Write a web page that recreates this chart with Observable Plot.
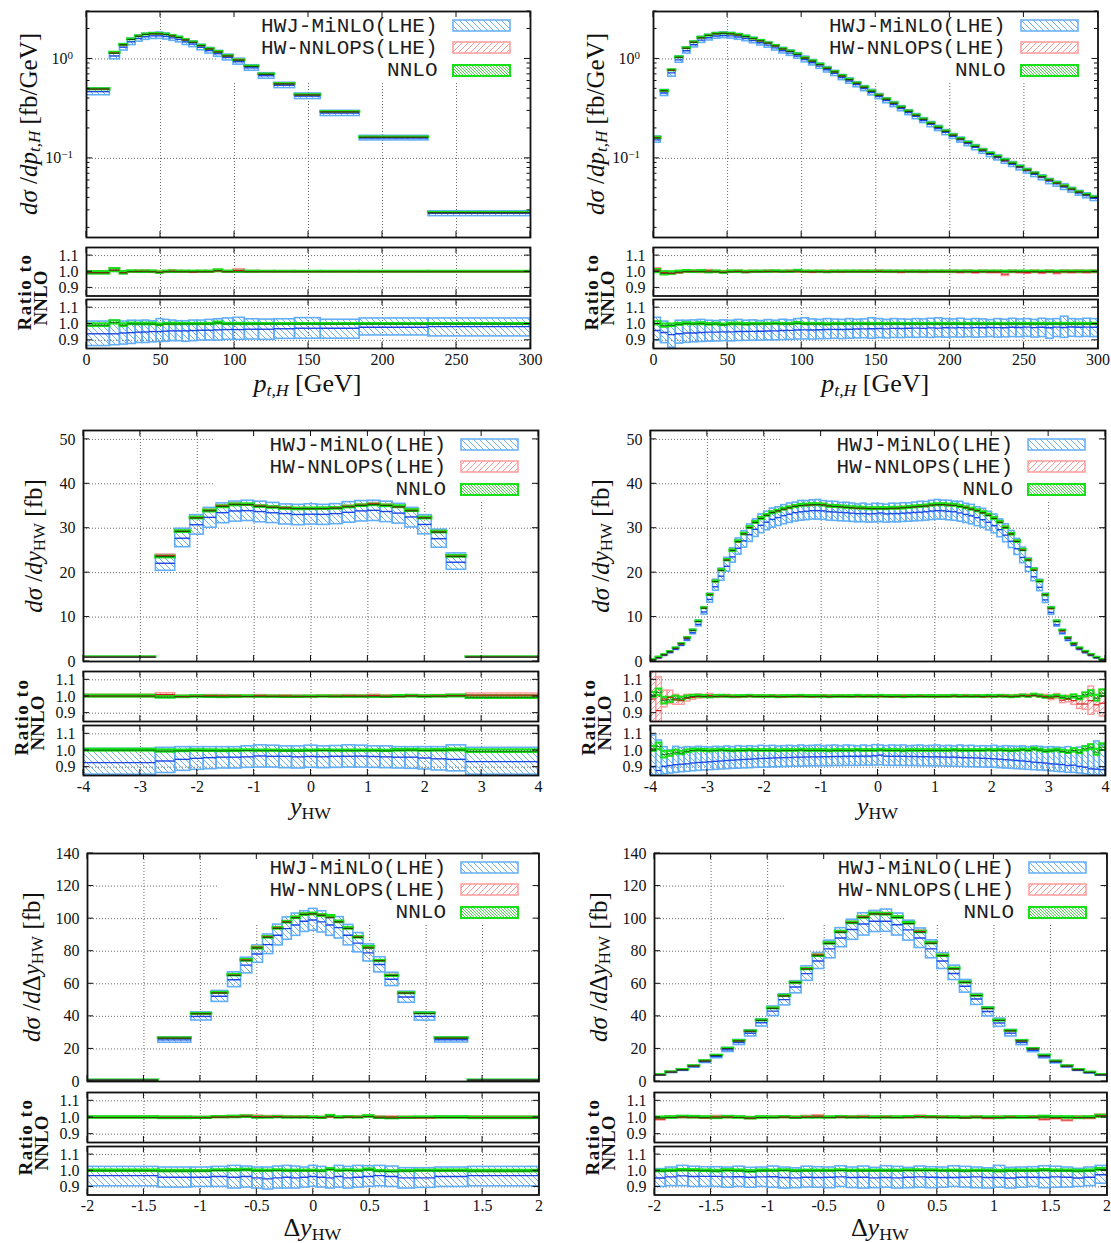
<!DOCTYPE html>
<html>
<head>
<meta charset="utf-8">
<script src="https://cdn.jsdelivr.net/npm/d3@7"></script>
<script src="https://cdn.jsdelivr.net/npm/@observablehq/plot@0.6"></script>
<style>
html,body{margin:0;padding:0;background:#fff;}
#root{position:relative;width:1111px;height:1243px;overflow:hidden;background:#fff;}
.lab{position:absolute;white-space:nowrap;font-family:"Liberation Serif","DejaVu Serif",serif;color:#111;line-height:1;}
.lab sub{font-size:68%;vertical-align:-0.2em;line-height:0;}
.leg{position:absolute;background:#fff;}
.legtxt{position:absolute;font-family:"Liberation Mono","DejaVu Sans Mono",monospace;font-size:21px;color:#1c1c1c;white-space:nowrap;line-height:21px;}
</style>
</head>
<body>
<div id="root"></div>
<script>
// ===================== DATA =====================
// Panel A : p_t,H, coarse bins (top left)
const AEdges = [0,15.8,22.6,27.8,33.2,37.9,42.4,47.4,51.9,56,60.5,65,69.5,75,80.4,86.2,92.1,99.3,107,116.5,127,140.9,158.3,184.6,231.1,300];
const ANNLO  = [0.499,1.14,1.39,1.57,1.69,1.76,1.79,1.79,1.76,1.70,1.64,1.55,1.47,1.36,1.26,1.17,1.07,0.97,0.84,0.70,0.56,0.434,0.293,0.163,0.0284];
const AGreenC = [0.993,1.01,0.993,1.001,1.0,1.0,1.0,0.995,1.0,1.0,1.0,1.0,1.0,1.0,1.0,1.006,1.0,1.0,1.0,1.0,1.0,1.0,1.0,1.0,1.0];
const AGreenE = [0.008,0.01,0.008,0.005,0.005,0.005,0.005,0.005,0.004,0.005,0.004,0.004,0.004,0.004,0.004,0.006,0.004,0.004,0.004,0.003,0.003,0.003,0.003,0.003,0.003];
const ARedC = [0.995,1.01,0.995,1.0,1.002,1.003,1.0,0.998,1.0,1.004,1.0,1.0,0.998,1.0,1.0,1.006,1.0,1.008,1.0,1.0,1.0,1.0,1.0,1.0,1.0];
const ARedE = [0.005,0.01,0.005,0.005,0.006,0.006,0.006,0.006,0.005,0.006,0.006,0.005,0.005,0.005,0.005,0.006,0.005,0.008,0.005,0.004,0.004,0.003,0.003,0.003,0.003];
const ABlueC  = [0.94,0.94,0.945,0.947,0.95,0.951,0.954,0.954,0.956,0.958,0.958,0.958,0.96,0.962,0.962,0.964,0.966,0.966,0.968,0.968,0.971,0.974,0.974,0.98,0.984];
const ABlueHi = [1.015,1.02,1.015,1.02,1.019,1.021,1.017,1.03,1.025,1.021,1.017,1.017,1.021,1.021,1.025,1.029,1.034,1.038,1.029,1.027,1.029,1.036,1.026,1.034,1.034];
const ABlueLo = [0.865,0.87,0.874,0.878,0.884,0.884,0.888,0.89,0.891,0.895,0.895,0.891,0.895,0.899,0.899,0.899,0.903,0.903,0.905,0.903,0.909,0.91,0.91,0.93,0.924];

// Panel B : p_t,H, 5 GeV bins (top right)
const BEdges = [0,5,10,15,20,25,30,35,40,45,50,55,60,65,70,75,80,85,90,95,100,105,110,115,120,125,130,135,140,145,150,155,160,165,170,175,180,185,190,195,200,205,210,215,220,225,230,235,240,245,250,255,260,265,270,275,280,285,290,295,300];
const BNNLO = [0.160,0.480,0.775,1.04,1.28,1.47,1.63,1.72,1.79,1.81,1.79,1.74,1.68,1.60,1.52,1.44,1.35,1.26,1.19,1.11,1.02,0.95,0.877,0.805,0.740,0.674,0.619,0.569,0.519,0.472,0.431,0.393,0.358,0.326,0.297,0.271,0.247,0.225,0.205,0.187,0.171,0.157,0.144,0.132,0.121,0.112,0.104,0.0962,0.0891,0.0824,0.0763,0.0707,0.0654,0.0605,0.0565,0.0526,0.0491,0.0458,0.0431,0.0405];
const BGreenC = [1.004,0.990,0.992,0.998,1.002,1.000,1.002,0.998,1.000,0.995,1.000,1.000,0.998,1.000,1.000,1.000,1.002,1.000,1.000,1.004,1.000,1.000,1.000,0.998,1.000,1.000,1.000,1.000,1.000,1.000,1.000,1.000,1.000,1.000,1.000,1.000,1.000,1.000,1.000,1.000,1.000,1.000,1.000,1.000,1.000,1.000,1.000,1.000,1.000,1.000,1.000,1.000,1.000,1.000,1.000,1.000,1.000,1.000,1.000,1.000];
const BGreenE = [0.010,0.010,0.008,0.006,0.006,0.005,0.006,0.005,0.005,0.005,0.005,0.005,0.005,0.004,0.004,0.004,0.004,0.004,0.004,0.005,0.004,0.004,0.004,0.004,0.004,0.004,0.004,0.004,0.004,0.004,0.004,0.004,0.004,0.004,0.004,0.004,0.004,0.004,0.004,0.004,0.004,0.004,0.004,0.004,0.004,0.004,0.004,0.004,0.004,0.004,0.004,0.004,0.004,0.004,0.004,0.004,0.004,0.004,0.004,0.004];
const BRedC = [1.010,0.995,0.990,0.995,1.000,1.002,1.000,1.004,1.000,0.998,1.000,1.002,0.998,1.000,1.000,1.002,1.000,1.000,1.002,1.000,1.000,0.998,1.000,1.000,1.000,0.999,1.000,1.000,1.001,1.000,1.002,1.000,1.000,0.998,1.000,1.000,0.999,1.000,1.000,1.000,1.000,0.998,1.000,0.996,1.000,0.998,0.998,0.985,1.000,0.997,0.995,1.000,0.994,1.000,0.993,1.000,0.998,1.000,0.998,1.000];
const BRedE = [0.012,0.008,0.008,0.006,0.007,0.006,0.008,0.007,0.006,0.006,0.006,0.006,0.006,0.006,0.006,0.006,0.006,0.006,0.006,0.006,0.006,0.006,0.006,0.006,0.006,0.006,0.006,0.006,0.007,0.007,0.007,0.007,0.007,0.007,0.007,0.007,0.007,0.007,0.007,0.007,0.008,0.008,0.008,0.008,0.008,0.008,0.008,0.012,0.008,0.008,0.008,0.008,0.008,0.008,0.009,0.009,0.009,0.009,0.009,0.009];
const BBlueC = [0.960,0.948,0.935,0.940,0.945,0.945,0.948,0.950,0.950,0.952,0.952,0.954,0.954,0.955,0.956,0.957,0.958,0.960,0.961,0.963,0.964,0.963,0.965,0.966,0.967,0.966,0.968,0.969,0.970,0.971,0.972,0.970,0.973,0.972,0.974,0.975,0.973,0.976,0.975,0.977,0.976,0.978,0.976,0.978,0.977,0.979,0.978,0.977,0.980,0.979,0.981,0.978,0.980,0.977,0.981,0.979,0.982,0.980,0.981,0.980];
const BBlueHi = [1.038,1.015,0.990,1.020,1.020,1.022,1.025,1.020,1.018,1.022,1.020,1.025,1.020,1.022,1.018,1.024,1.020,1.026,1.022,1.030,1.035,1.028,1.025,1.030,1.027,1.025,1.030,1.026,1.028,1.035,1.030,1.025,1.030,1.028,1.026,1.030,1.028,1.032,1.035,1.030,1.028,1.032,1.026,1.030,1.028,1.024,1.030,1.026,1.032,1.028,1.030,1.025,1.032,1.028,1.030,1.045,1.030,1.028,1.032,1.030];
const BBlueLo = [0.900,0.883,0.855,0.880,0.885,0.888,0.890,0.892,0.893,0.895,0.894,0.896,0.897,0.898,0.898,0.900,0.900,0.902,0.903,0.905,0.906,0.905,0.907,0.908,0.910,0.908,0.910,0.912,0.913,0.910,0.914,0.912,0.915,0.914,0.916,0.915,0.917,0.915,0.918,0.916,0.918,0.917,0.919,0.916,0.918,0.920,0.917,0.918,0.920,0.919,0.921,0.917,0.920,0.910,0.920,0.915,0.922,0.920,0.921,0.920];

// Panel C : y_HW, coarse bins (middle left)
const CEdges = [-4,-2.727,-2.387,-2.123,-1.886,-1.66,-1.437,-1.22,-1.0,-0.78,-0.557,-0.334,-0.111,0.111,0.334,0.557,0.78,1.0,1.22,1.437,1.66,1.886,2.123,2.387,2.727,4];
const CNNLO = [1.0,23.6,29.3,32.3,33.9,34.9,35.3,35.3,34.9,34.7,34.5,34.4,34.4,34.4,34.5,34.8,35.1,35.3,35.1,34.8,33.9,32.3,29.1,23.6,1.0];
const CGreenC = [1.002,0.997,0.998,1.0,0.999,0.998,0.999,1.0,0.999,0.999,0.998,0.998,0.999,1.0,0.999,0.999,0.999,0.999,0.998,1.001,1.002,1.0,1.001,1.003,0.996];
const CGreenE = [0.006,0.007,0.005,0.005,0.005,0.005,0.005,0.004,0.004,0.004,0.004,0.004,0.004,0.004,0.004,0.004,0.004,0.004,0.004,0.005,0.005,0.005,0.005,0.006,0.008];
const CRedC = [1.003,1.012,1.0,1.002,1.004,1.004,1.003,1.0,1.004,1.002,1.003,1.001,1.0,1.001,1.002,1.004,1.003,1.006,1.002,1.0,1.004,1.002,1.003,1.005,1.008];
const CRedE = [0.008,0.008,0.005,0.005,0.005,0.005,0.005,0.005,0.005,0.005,0.005,0.005,0.005,0.005,0.005,0.005,0.005,0.005,0.005,0.005,0.005,0.005,0.006,0.006,0.01];
const CBlueC  = [0.927,0.937,0.947,0.953,0.957,0.96,0.96,0.962,0.967,0.965,0.965,0.962,0.964,0.963,0.965,0.965,0.966,0.964,0.962,0.96,0.96,0.955,0.95,0.947,0.933];
const CBlueHi = [1.01,1.016,1.02,1.02,1.02,1.02,1.02,1.025,1.031,1.029,1.025,1.025,1.029,1.025,1.027,1.031,1.029,1.025,1.025,1.02,1.02,1.02,1.02,1.031,1.016];
const CBlueLo = [0.855,0.865,0.878,0.884,0.888,0.892,0.892,0.896,0.898,0.898,0.894,0.892,0.896,0.894,0.896,0.898,0.898,0.896,0.894,0.892,0.89,0.886,0.88,0.875,0.855];

// Panel D : y_HW, 0.1 bins (middle right)
const DEdges = [-4,-3.9,-3.8,-3.7,-3.6,-3.5,-3.4,-3.3,-3.2,-3.1,-3,-2.9,-2.8,-2.7,-2.6,-2.5,-2.4,-2.3,-2.2,-2.1,-2,-1.9,-1.8,-1.7,-1.6,-1.5,-1.4,-1.3,-1.2,-1.1,-1,-0.9,-0.8,-0.7,-0.6,-0.5,-0.4,-0.3,-0.2,-0.1,0,0.1,0.2,0.3,0.4,0.5,0.6,0.7,0.8,0.9,1,1.1,1.2,1.3,1.4,1.5,1.6,1.7,1.8,1.9,2,2.1,2.2,2.3,2.4,2.5,2.6,2.7,2.8,2.9,3,3.1,3.2,3.3,3.4,3.5,3.6,3.7,3.8,3.9,4];
const DNNLO = [0.4,0.9,1.5,2.2,3.0,4.0,5.3,7.0,9.0,12.0,15.0,18.0,20.5,22.8,25.0,27.0,28.7,30.1,31.3,32.2,32.9,33.5,33.9,34.3,34.6,34.9,35.1,35.2,35.3,35.3,35.2,35.0,34.9,34.8,34.7,34.6,34.5,34.5,34.4,34.4,
  34.4,34.4,34.5,34.5,34.6,34.7,34.8,34.9,35.0,35.2,35.3,35.3,35.2,35.1,34.9,34.6,34.3,33.9,33.5,32.9,32.2,31.3,30.1,28.7,27.0,25.0,22.8,20.5,18.0,15.0,12.0,9.0,7.0,5.3,4.0,3.0,2.2,1.5,0.9,0.4];
const DGreenC = [1.010,1.025,0.975,0.980,0.990,0.985,0.995,1.000,1.002,1.000,0.998,1.000,1.002,1.000,0.998,1.000,1.000,1.002,1.000,1.000,1.000,1.000,0.998,1.000,1.000,1.000,1.002,1.000,1.000,1.000,1.000,0.998,1.000,1.000,1.000,1.000,1.002,1.000,1.000,1.000,
  1.002,1.000,1.000,1.000,0.998,1.000,1.000,1.000,1.000,1.000,1.000,1.000,1.000,1.002,1.000,1.000,1.000,1.000,1.000,1.002,1.000,1.002,1.000,0.998,1.000,1.004,1.000,1.008,1.002,0.995,0.998,1.002,0.995,0.990,1.000,0.990,1.010,1.020,0.990,1.020];
const DGreenE = [0.015,0.020,0.020,0.015,0.012,0.010,0.008,0.007,0.006,0.006,0.006,0.005,0.005,0.005,0.005,0.005,0.005,0.005,0.005,0.005,0.005,0.005,0.005,0.005,0.005,0.005,0.005,0.005,0.005,0.005,0.005,0.005,0.005,0.005,0.005,0.005,0.005,0.005,0.005,0.005,
  0.005,0.005,0.005,0.005,0.005,0.005,0.005,0.005,0.005,0.005,0.005,0.005,0.005,0.005,0.005,0.005,0.005,0.005,0.005,0.005,0.005,0.005,0.005,0.005,0.005,0.005,0.005,0.006,0.006,0.006,0.006,0.006,0.007,0.008,0.010,0.010,0.012,0.015,0.018,0.020];
const DRedC = [0.985,0.915,0.985,0.995,0.980,0.975,0.990,0.995,1.000,1.000,1.005,1.000,1.000,1.002,1.000,0.998,1.000,1.002,1.000,1.000,1.000,1.002,1.000,0.998,1.000,1.002,1.000,1.000,0.998,1.000,1.002,1.000,1.000,1.001,1.000,0.999,1.000,1.000,1.002,1.000,
  1.000,1.000,0.998,1.000,1.001,1.000,1.000,1.002,1.000,1.000,0.999,1.000,1.000,1.002,1.000,1.003,1.000,1.002,0.998,1.000,1.000,1.002,1.003,1.000,1.002,1.005,1.004,1.006,1.002,1.000,0.990,1.000,0.978,0.985,0.975,0.955,0.955,0.975,0.950,0.960];
const DRedE = [0.200,0.200,0.050,0.040,0.030,0.025,0.020,0.015,0.012,0.010,0.010,0.009,0.008,0.008,0.007,0.007,0.007,0.006,0.006,0.006,0.006,0.006,0.006,0.006,0.006,0.006,0.006,0.006,0.006,0.006,0.006,0.006,0.006,0.006,0.006,0.006,0.006,0.006,0.006,0.006,
  0.006,0.006,0.006,0.006,0.006,0.006,0.006,0.006,0.006,0.006,0.006,0.006,0.006,0.006,0.006,0.006,0.006,0.006,0.006,0.006,0.006,0.006,0.006,0.007,0.007,0.007,0.008,0.008,0.009,0.010,0.012,0.015,0.018,0.020,0.025,0.030,0.035,0.085,0.040,0.080];
const DBlueC = [0.904,0.880,0.905,0.910,0.915,0.918,0.920,0.925,0.928,0.930,0.932,0.935,0.937,0.940,0.942,0.944,0.946,0.948,0.950,0.952,0.953,0.955,0.956,0.957,0.958,0.960,0.960,0.961,0.962,0.962,0.963,0.963,0.964,0.964,0.965,0.965,0.965,0.966,0.966,0.968,
  0.972,0.966,0.965,0.965,0.965,0.964,0.964,0.963,0.963,0.962,0.962,0.961,0.960,0.960,0.958,0.957,0.956,0.955,0.953,0.952,0.950,0.948,0.945,0.943,0.940,0.937,0.934,0.930,0.928,0.925,0.920,0.918,0.915,0.910,0.912,0.905,0.900,0.890,0.888,0.885];
const DBlueHi = [1.090,1.060,1.020,1.000,1.022,1.015,1.020,1.018,1.022,1.020,1.018,1.022,1.020,1.024,1.020,1.026,1.022,1.025,1.022,1.028,1.025,1.028,1.024,1.026,1.028,1.025,1.030,1.026,1.028,1.030,1.026,1.028,1.030,1.026,1.030,1.028,1.025,1.030,1.026,1.032,
  1.030,1.026,1.030,1.028,1.030,1.026,1.028,1.030,1.026,1.028,1.030,1.026,1.028,1.025,1.030,1.026,1.028,1.024,1.026,1.025,1.028,1.022,1.026,1.024,1.022,1.025,1.020,1.024,1.022,1.018,1.020,1.018,1.015,1.020,1.012,1.018,1.025,1.010,1.054,1.030];
const DBlueLo = [0.850,0.850,0.858,0.862,0.866,0.870,0.872,0.876,0.878,0.880,0.882,0.884,0.886,0.888,0.890,0.891,0.893,0.894,0.896,0.897,0.898,0.899,0.900,0.901,0.902,0.903,0.903,0.904,0.905,0.905,0.906,0.906,0.907,0.907,0.908,0.908,0.908,0.909,0.909,0.910,
  0.912,0.909,0.908,0.908,0.908,0.907,0.907,0.906,0.906,0.905,0.905,0.904,0.903,0.903,0.902,0.901,0.900,0.899,0.898,0.897,0.896,0.894,0.892,0.890,0.888,0.886,0.884,0.882,0.880,0.878,0.875,0.872,0.870,0.866,0.866,0.862,0.858,0.852,0.850,0.850];

// Panel E : Delta y_HW, coarse bins (bottom left)
const EEdges = [-2,-1.372,-1.08,-0.9,-0.755,-0.64,-0.54,-0.445,-0.355,-0.27,-0.19,-0.115,-0.038,0.038,0.115,0.19,0.27,0.355,0.445,0.54,0.64,0.755,0.9,1.08,1.372,2];
const ENNLO = [0.8,26.6,41.6,54.3,65.1,74.1,81.9,88.5,93.9,97.8,100.5,102.5,102.9,102.1,100.5,98.0,93.9,88.5,81.9,74.1,65.1,54.3,41.8,26.6,0.8];
const EGreenC = [1.0,0.998,0.998,1.002,1.003,1.005,1.0,1.0,1.002,1.0,1.0,1.0,1.0,0.998,1.008,1.0,1.002,1.0,1.006,0.998,0.996,0.998,1.0,1.0,0.998];
const EGreenE = [0.005,0.005,0.004,0.004,0.005,0.005,0.005,0.004,0.004,0.004,0.004,0.004,0.004,0.004,0.005,0.004,0.004,0.004,0.005,0.004,0.004,0.004,0.004,0.005,0.005];
const ERedC = [1.0,1.0,1.0,1.002,1.004,1.008,1.006,1.004,1.005,1.003,1.002,1.002,1.0,1.0,1.003,1.0,1.002,1.003,1.006,1.002,1.002,1.0,0.998,1.0,1.0];
const ERedE = [0.006,0.005,0.004,0.005,0.005,0.006,0.006,0.005,0.005,0.005,0.004,0.004,0.004,0.004,0.004,0.005,0.005,0.005,0.006,0.005,0.005,0.005,0.004,0.005,0.006];
const EBlueC  = [0.97,0.96,0.96,0.964,0.96,0.964,0.956,0.95,0.956,0.96,0.956,0.96,0.964,0.96,0.956,0.964,0.956,0.96,0.964,0.97,0.964,0.956,0.956,0.964,0.97];
const EBlueHi = [1.024,1.02,1.02,1.024,1.03,1.026,1.02,1.02,1.026,1.03,1.026,1.02,1.03,1.024,1.016,1.03,1.024,1.03,1.028,1.03,1.026,1.016,1.016,1.02,1.024];
const EBlueLo = [0.904,0.896,0.9,0.9,0.89,0.896,0.89,0.884,0.89,0.89,0.89,0.896,0.9,0.896,0.89,0.896,0.89,0.896,0.9,0.904,0.9,0.89,0.894,0.9,0.904];

// Panel F : Delta y_HW, 0.1 bins (bottom right)
const FEdges = [-2,-1.9,-1.8,-1.7,-1.6,-1.5,-1.4,-1.3,-1.2,-1.1,-1,-0.9,-0.8,-0.7,-0.6,-0.5,-0.4,-0.3,-0.2,-0.1,0,0.1,0.2,0.3,0.4,0.5,0.6,0.7,0.8,0.9,1,1.1,1.2,1.3,1.4,1.5,1.6,1.7,1.8,1.9,2];
const FNNLO = [4.1,5.8,7.2,9.5,12.6,15.9,20.2,24.9,30.9,37.5,44.9,52.5,60.7,69.0,77.2,84.8,91.6,97.4,100.7,102.9,102.7,100.7,97.0,91.6,84.8,77.2,69.2,60.9,52.7,44.9,37.5,31.1,24.9,20.0,15.9,12.4,9.5,7.2,5.6,4.1];
const FGreenC = [0.998,1.0,1.003,1.002,1.0,0.998,1.002,1.0,0.996,1.0,1.0,1.002,0.998,1.0,1.0,1.0,1.002,1.0,1.0,1.0,1.0,1.0,1.002,1.002,1.002,1.0,1.0,0.998,1.0,1.0,0.998,1.0,1.0,1.0,1.003,1.0,1.0,0.998,1.0,1.008];
const FGreenE = [0.005,0.005,0.005,0.005,0.005,0.005,0.005,0.005,0.005,0.005,0.004,0.004,0.004,0.004,0.004,0.004,0.004,0.004,0.004,0.004,0.004,0.004,0.004,0.004,0.004,0.004,0.004,0.004,0.004,0.004,0.005,0.005,0.005,0.005,0.005,0.005,0.005,0.005,0.005,0.006];
const FRedC = [0.99,1.0,1.002,1.0,0.998,1.004,1.002,1.0,0.996,1.0,1.0,1.002,1.0,1.004,1.008,1.0,1.002,1.002,1.004,1.0,1.002,1.0,1.0,1.006,1.002,1.002,1.0,0.998,1.002,0.996,1.0,1.002,1.0,1.002,0.99,0.996,0.985,1.0,0.998,1.01];
const FRedE = [0.008,0.006,0.006,0.006,0.006,0.006,0.006,0.006,0.006,0.006,0.006,0.006,0.006,0.006,0.006,0.006,0.006,0.006,0.006,0.006,0.006,0.006,0.006,0.006,0.006,0.006,0.006,0.006,0.006,0.006,0.006,0.006,0.006,0.006,0.008,0.008,0.008,0.008,0.008,0.008];
const FBlueC  = [0.955,0.962,0.968,0.964,0.965,0.965,0.962,0.963,0.960,0.962,0.963,0.958,0.956,0.960,0.958,0.960,0.962,0.958,0.960,0.956,0.958,0.956,0.960,0.962,0.960,0.958,0.958,0.960,0.962,0.958,0.958,0.955,0.960,0.960,0.958,0.962,0.960,0.955,0.960,0.975];
const FBlueHi = [1.010,1.020,1.030,1.025,1.022,1.022,1.020,1.025,1.018,1.020,1.026,1.020,1.015,1.025,1.022,1.020,1.028,1.020,1.026,1.018,1.028,1.024,1.018,1.026,1.022,1.020,1.028,1.024,1.020,1.015,1.030,1.018,1.020,1.022,1.028,1.025,1.020,1.012,1.020,1.030];
const FBlueLo = [0.900,0.905,0.905,0.900,0.900,0.900,0.895,0.900,0.895,0.900,0.895,0.890,0.892,0.896,0.895,0.892,0.900,0.893,0.890,0.892,0.895,0.890,0.892,0.895,0.892,0.895,0.900,0.896,0.892,0.890,0.895,0.890,0.895,0.900,0.892,0.895,0.896,0.900,0.905,0.920];

// Axis ticks
const ptTicks = [0,50,100,150,200,250,300];
const yTicks = [-4,-3,-2,-1,0,1,2,3,4];
const dyTicks = [-2,-1.5,-1,-0.5,0,0.5,1,1.5,2];
const logMajor = [0.1,1];
const logMinor = [0.02,0.03,0.04,0.05,0.06,0.07,0.08,0.09,0.2,0.3,0.4,0.5,0.6,0.7,0.8,0.9,2,3];
const rapMainTicks = [0,10,20,30,40,50];
const dRapMainTicks = [0,20,40,60,80,100,120,140];
const ratioTicks = [0.9,1.0,1.1];
const legendLabels = ["HWJ-MiNLO(LHE)","HW-NNLOPS(LHE)","NNLO"];

// ===================== DRAWING =====================
const NS = "http://www.w3.org/2000/svg";
const root = document.getElementById("root");
const BLUE = "#62aef7", RED = "#ff9a9a", GREEN = "#16e016", DBLUE = "#1b44e4", DRED = "#d01818", DGREEN = "#0b4d0b";
const HB = "#5ea9f2", HR = "#ff8c8c", HG = "#00bf00";
let uid = 0;

function patternDefs(id) {
  return `<defs>
<pattern id="hb${id}" patternUnits="userSpaceOnUse" width="6" height="6"><path d="M-1.5,-1.5L7.5,7.5M-1.5,4.5L1.5,7.5M4.5,-1.5L7.5,1.5" stroke="${HB}" stroke-width="0.9" fill="none"/></pattern>
<pattern id="hr${id}" patternUnits="userSpaceOnUse" width="6" height="6"><path d="M-1.5,7.5L7.5,-1.5M-1.5,1.5L1.5,-1.5M4.5,7.5L7.5,4.5" stroke="${HR}" stroke-width="0.9" fill="none"/></pattern>
<pattern id="hg${id}" patternUnits="userSpaceOnUse" width="3" height="3"><path d="M-1,-1L4,4M-1,2L1,4M2,-1L4,1" stroke="${HG}" stroke-width="0.7" fill="none"/></pattern>
</defs>`;
}
function defsMark(id) {
  return () => { const g = document.createElementNS(NS, "g"); g.innerHTML = patternDefs(id); return g; };
}
function ticksMark(xs, ys, ysMinor) {
  return (index, scales, values, dim) => {
    const {x, y} = scales;
    const x0 = dim.marginLeft, x1 = dim.width - dim.marginRight;
    const y0 = dim.marginTop, y1 = dim.height - dim.marginBottom;
    const L = 6, l = 3.5;
    let d = "";
    for (const v of ys) { const p = y(v); d += `M${x0},${p}h${L}M${x1},${p}h${-L}`; }
    for (const v of ysMinor) { const p = y(v); d += `M${x0},${p}h${l}M${x1},${p}h${-l}`; }
    for (const v of xs) { const p = x(v); d += `M${p},${y1}v${-L}M${p},${y0}v${L}`; }
    const path = document.createElementNS(NS, "path");
    path.setAttribute("d", d); path.setAttribute("stroke", "#111");
    path.setAttribute("fill", "none"); path.setAttribute("stroke-width", "1");
    return path;
  };
}
function logLabels(vals) {
  return (index, scales, values, dim) => {
    const g = document.createElementNS(NS, "g");
    for (const v of vals) {
      const e = Math.round(Math.log10(v));
      const t = document.createElementNS(NS, "text");
      t.setAttribute("x", dim.marginLeft - 13);
      t.setAttribute("y", scales.y(v));
      t.setAttribute("dy", "0.35em");
      t.setAttribute("text-anchor", "end");
      t.setAttribute("font-size", "16");
      t.setAttribute("fill", "#111");
      t.innerHTML = `10<tspan dy="-0.5em" font-size="11">${e < 0 ? "\u2212" + (-e) : e}</tspan>`;
      g.appendChild(t);
    }
    return g;
  };
}
function place(svg, left, top) {
  svg.style.position = "absolute";
  svg.style.left = left + "px";
  svg.style.top = top + "px";
  svg.style.background = "transparent";
  svg.style.maxWidth = "none";
  root.appendChild(svg);
}
function rowsOf(edges, nnlo, gC, gE, rC, rE, bC, bHi, bLo) {
  return nnlo.map((n, i) => ({lo: edges[i], hi: edges[i + 1], n,
    gC: gC[i], gE: gE[i], rC: rC[i], rE: rE[i], bC: bC[i], bHi: bHi[i], bLo: bLo[i]}));
}
function gridMarks(xGrid, yGrid) {
  const st = {stroke: "#6a6a6a", strokeOpacity: 1, strokeWidth: 1, strokeDasharray: "1,2"};
  return [Plot.gridX({ticks: xGrid, ...st}), Plot.gridY({ticks: yGrid, ...st})];
}

function subplot(o) {
  const mL = 72, mR = 14, mT = 8, mB = o.xLabels ? 30 : 8;
  const w = o.right - o.left, h = o.bottom - o.top;
  const base = {
    width: w + mL + mR, height: h + mT + mB,
    marginLeft: mL, marginRight: mR, marginTop: mT, marginBottom: mB,
    x: {domain: o.xDomain, axis: null},
    y: {domain: o.yDomain, type: o.yLog ? "log" : "linear", axis: null},
    style: {fontFamily: "'Liberation Serif', serif", fontSize: "16px", color: "#111", background: "transparent"}
  };
  const gl = o.left - mL, gt = o.top - mT;
  const id = ++uid;
  const marks = [];
  if (!o.legend) marks.push(...gridMarks(o.xGrid, o.yGrid));
  marks.push(defsMark(id));
  marks.push(...o.data(id));
  marks.push(Plot.frame({stroke: "#111", strokeWidth: 1.8}));
  marks.push(ticksMark(o.xTicks, o.yTicks, o.yMinor || []));
  if (o.yLog) marks.push(logLabels(o.yTicks));
  else marks.push(Plot.axisY({ticks: o.yTicks, tickSize: 0, tickPadding: 8, tickFormat: o.yFormat, fontSize: 16, label: null}));
  if (o.xLabels) marks.push(Plot.axisX({ticks: o.xTicks, tickSize: 0, tickPadding: 5, tickFormat: d => String(d), fontSize: 16, label: null}));

  if (o.legend) {
    place(Plot.plot({...base, marks: gridMarks(o.xGrid, o.yGrid)}), gl, gt);
    legendBox(o.left, o.right, o.top, id);
  }
  place(Plot.plot({...base, marks}), gl, gt);
}

function legendBox(left, right, top, id) {
  const div = document.createElement("div");
  div.className = "leg";
  const lw = right - left - 133;
  div.style.left = (left + 131) + "px";
  div.style.top = (top + 1.5) + "px";
  div.style.width = lw + "px";
  div.style.height = "68px";
  const fills = [["hb", BLUE, 1.5], ["hr", RED, 1.5], ["hg", GREEN, 2]];
  legendLabels.forEach((lab, i) => {
    const cy = 13 + 22.3 * i;
    const t = document.createElement("div");
    t.className = "legtxt";
    t.textContent = lab;
    t.style.right = "90px";
    t.style.top = (cy - 10) + "px";
    div.appendChild(t);
    const s = document.createElementNS(NS, "svg");
    s.setAttribute("width", 59); s.setAttribute("height", 13);
    s.style.position = "absolute"; s.style.right = "17px"; s.style.top = (cy - 6.5) + "px";
    const [p, col, sw] = fills[i];
    s.innerHTML = patternDefs("L" + id + "_" + i) +
      `<rect x="1" y="1" width="57" height="11" fill="url(#${p}L${id}_${i})" stroke="${col}" stroke-width="${sw}"/>`;
    div.appendChild(s);
  });
  root.appendChild(div);
}

function mainData(rows) {
  return id => [
    Plot.rect(rows, {x1: "lo", x2: "hi", y1: d => d.n * d.bLo, y2: d => d.n * d.bHi, fill: `url(#hb${id})`, stroke: BLUE, strokeWidth: 1.6, clip: true}),
    Plot.rect(rows, {x1: "lo", x2: "hi", y1: d => d.n * (d.rC - d.rE), y2: d => d.n * (d.rC + d.rE), fill: `url(#hr${id})`, stroke: RED, strokeWidth: 1.4, clip: true}),
    Plot.rect(rows, {x1: "lo", x2: "hi", y1: d => d.n * (d.gC - d.gE), y2: d => d.n * (d.gC + d.gE), fill: `url(#hg${id})`, stroke: GREEN, strokeWidth: 2.4, clip: true}),
    Plot.ruleY(rows, {x1: "lo", x2: "hi", y: d => d.n * d.bC, stroke: DBLUE, strokeWidth: 1.4, clip: true}),
    Plot.ruleY(rows, {x1: "lo", x2: "hi", y: d => d.n * d.rC, stroke: DRED, strokeWidth: 1, clip: true}),
    Plot.ruleY(rows, {x1: "lo", x2: "hi", y: "n", stroke: DGREEN, strokeWidth: 1, clip: true})
  ];
}
function ratio1Data(rows) {
  return id => [
    Plot.rect(rows, {x1: "lo", x2: "hi", y1: d => d.rC - d.rE, y2: d => d.rC + d.rE, fill: `url(#hr${id})`, stroke: RED, strokeWidth: 1.4, clip: true}),
    Plot.rect(rows, {x1: "lo", x2: "hi", y1: d => d.gC - d.gE, y2: d => d.gC + d.gE, fill: `url(#hg${id})`, stroke: GREEN, strokeWidth: 2, clip: true}),
    Plot.ruleY(rows, {x1: "lo", x2: "hi", y: "rC", stroke: DRED, strokeWidth: 1.2, clip: true}),
    Plot.ruleY(rows, {x1: "lo", x2: "hi", y: "gC", stroke: DGREEN, strokeWidth: 0.8, clip: true})
  ];
}
function ratio2Data(rows) {
  return id => [
    Plot.rect(rows, {x1: "lo", x2: "hi", y1: "bLo", y2: "bHi", fill: `url(#hb${id})`, stroke: BLUE, strokeWidth: 1.6, clip: true}),
    Plot.rect(rows, {x1: "lo", x2: "hi", y1: d => d.gC - d.gE, y2: d => d.gC + d.gE, fill: `url(#hg${id})`, stroke: GREEN, strokeWidth: 2, clip: true}),
    Plot.ruleY(rows, {x1: "lo", x2: "hi", y: "bC", stroke: DBLUE, strokeWidth: 1.4, clip: true}),
    Plot.ruleY(rows, {x1: "lo", x2: "hi", y: "gC", stroke: DGREEN, strokeWidth: 0.8, clip: true})
  ];
}

function label(html, cx, cy, size, rot, extra) {
  const d = document.createElement("div");
  d.className = "lab";
  d.innerHTML = html;
  d.style.left = cx + "px"; d.style.top = cy + "px"; d.style.fontSize = size + "px";
  d.style.transform = "translate(-50%,-50%)" + (rot ? " rotate(-90deg)" : "");
  if (extra) Object.assign(d.style, extra);
  root.appendChild(d);
}

const ROWS = [
  {main: [11, 237], r1: [247, 295.5], r2: [299, 348], cols: [[85.5, 529.5], [653, 1097.5]],
   xDomain: [0, 300], xTicks: ptTicks, yDomain: [0.016, 3], yLog: true, yTicks: logMajor, yMinor: logMinor,
   yTitle: `<i>d\u03c3</i> /<i>dp</i><sub><i>t,H</i></sub> [fb/GeV]`, yTitleDx: -58,
   xTitle: `<i>p</i><sub><i>t,H</i></sub> [GeV]`, xTitleY: 384},
  {main: [430, 661], r1: [671, 721], r2: [725, 775], cols: [[83, 538], [650, 1105]],
   xDomain: [-4, 4], xTicks: yTicks, yDomain: [0, 52], yLog: false, yTicks: rapMainTicks,
   yTitle: `<i>d\u03c3</i> /<i>dy</i><sub>HW</sub> [fb]`, yTitleDx: -50,
   xTitle: `<i>y</i><sub>HW</sub>`, xTitleY: 807},
  {main: [853, 1081], r1: [1092, 1142], r2: [1145.5, 1194], cols: [[86.5, 538], [653.5, 1106]],
   xDomain: [-2, 2], xTicks: dyTicks, yDomain: [0, 140], yLog: false, yTicks: dRapMainTicks,
   yTitle: `<i>d\u03c3</i> /<i>d</i>\u0394<i>y</i><sub>HW</sub> [fb]`, yTitleDx: -56,
   xTitle: `\u0394<i>y</i><sub>HW</sub>`, xTitleY: 1228}
];
const PANELS = [
  [rowsOf(AEdges, ANNLO, AGreenC, AGreenE, ARedC, ARedE, ABlueC, ABlueHi, ABlueLo),
   rowsOf(BEdges, BNNLO, BGreenC, BGreenE, BRedC, BRedE, BBlueC, BBlueHi, BBlueLo)],
  [rowsOf(CEdges, CNNLO, CGreenC, CGreenE, CRedC, CRedE, CBlueC, CBlueHi, CBlueLo),
   rowsOf(DEdges, DNNLO, DGreenC, DGreenE, DRedC, DRedE, DBlueC, DBlueHi, DBlueLo)],
  [rowsOf(EEdges, ENNLO, EGreenC, EGreenE, ERedC, ERedE, EBlueC, EBlueHi, EBlueLo),
   rowsOf(FEdges, FNNLO, FGreenC, FGreenE, FRedC, FRedE, FBlueC, FBlueHi, FBlueLo)]
];

ROWS.forEach((R, ri) => {
  const inner = R.xTicks.slice(1, -1);
  R.cols.forEach(([left, right], ci) => {
    const rows = PANELS[ri][ci];
    const yInner = R.yLog ? R.yTicks : R.yTicks.filter(v => v > R.yDomain[0] && v < R.yDomain[1]);
    subplot({left, right, top: R.main[0], bottom: R.main[1], xDomain: R.xDomain, yDomain: R.yDomain, yLog: R.yLog,
      xTicks: R.xTicks, yTicks: R.yTicks, yMinor: R.yMinor, xGrid: inner, yGrid: yInner,
      yFormat: d => String(d), legend: true, data: mainData(rows)});
    subplot({left, right, top: R.r1[0], bottom: R.r1[1], xDomain: R.xDomain, yDomain: [0.85, 1.15],
      xTicks: R.xTicks, yTicks: ratioTicks, xGrid: inner, yGrid: ratioTicks,
      yFormat: d3.format(".1f"), data: ratio1Data(rows)});
    subplot({left, right, top: R.r2[0], bottom: R.r2[1], xDomain: R.xDomain, yDomain: [0.85, 1.15],
      xTicks: R.xTicks, yTicks: ratioTicks, xGrid: inner, yGrid: ratioTicks, xLabels: true,
      yFormat: d3.format(".1f"), data: ratio2Data(rows)});
    // titles
    label(R.yTitle, left + R.yTitleDx, (R.main[0] + R.main[1]) / 2, 25, true);
    const rMid = (R.r1[0] + R.r2[1]) / 2;
    label("Ratio to", left - 62, rMid - 6, 19, true, {fontWeight: "bold", letterSpacing: "1.5px"});
    label("NNLO", left - 46, rMid, 19, true, {fontWeight: "bold"});
    label(R.xTitle, (left + right) / 2, R.xTitleY, 26, false);
  });
});
</script>
</body>
</html>
